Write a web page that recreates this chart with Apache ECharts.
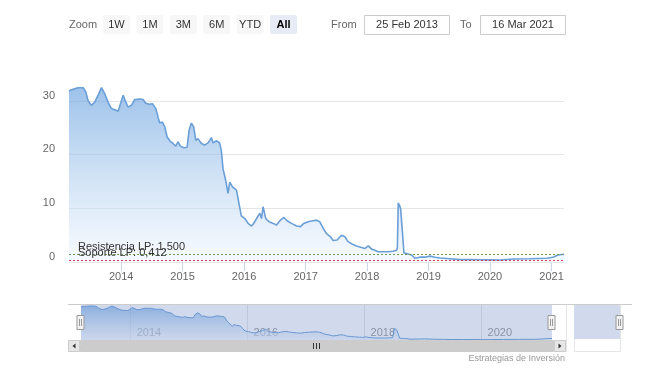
<!DOCTYPE html>
<html><head><meta charset="utf-8">
<script src="https://cdn.jsdelivr.net/npm/echarts@6/dist/echarts.min.js"></script>
<style>html,body{margin:0;padding:0;background:#fff}#c{width:655px;height:373px}</style>
</head><body><div id="c"></div>
<script>
const dates = ['2013-02-25','2013-03-12','2013-03-31','2013-04-20','2013-05-20','2013-06-05','2013-06-18','2013-07-08','2013-07-28','2013-08-17','2013-09-06','2013-09-25','2013-10-15','2013-11-04','2013-11-24','2013-12-14','2013-12-28',
'2014-01-13','2014-01-29','2014-02-11','2014-03-03','2014-03-23','2014-04-22','2014-05-11','2014-05-27','2014-06-16','2014-07-06','2014-07-26','2014-08-08','2014-08-18','2014-09-03','2014-09-17','2014-10-01','2014-10-17','2014-11-05','2014-11-21','2014-12-05','2014-12-19',
'2015-01-08','2015-01-28','2015-02-08','2015-02-22','2015-03-08','2015-03-20','2015-04-02','2015-04-23','2015-05-12','2015-06-01','2015-06-21','2015-07-01','2015-07-21','2015-08-09','2015-08-19','2015-08-29','2015-09-14','2015-09-28','2015-10-08','2015-10-24','2015-11-17','2015-12-02','2015-12-16',
'2016-01-06','2016-01-25','2016-02-14','2016-02-28','2016-03-19','2016-04-04','2016-04-14','2016-04-23','2016-05-09','2016-05-29','2016-06-22','2016-07-12','2016-08-01','2016-08-25','2016-09-13','2016-10-09','2016-11-08','2016-12-02','2016-12-21',
'2017-01-16','2017-02-14','2017-03-06','2017-03-26','2017-04-15','2017-05-05','2017-05-29','2017-06-13','2017-07-07','2017-08-02','2017-08-22','2017-09-10','2017-10-06','2017-10-30','2017-11-29','2017-12-19',
'2018-01-08','2018-01-28','2018-02-16','2018-03-08','2018-04-07','2018-05-07','2018-06-05','2018-06-25','2018-06-30','2018-07-05','2018-07-12','2018-07-19','2018-07-29','2018-08-08','2018-09-02','2018-09-23','2018-10-12','2018-11-11','2018-12-11',
'2019-01-10','2019-02-08','2019-03-10','2019-05-08','2019-07-06','2019-09-05','2019-11-03',
'2020-01-05','2020-03-01','2020-05-17','2020-08-26','2020-12-05',
'2021-01-10','2021-02-08','2021-03-16'];
const prices = [31.9,32.1,32.3,32.5,32.5,31.7,30.1,29.2,29.8,31.1,32.5,31.4,29.8,28.6,28.4,28.1,29.5,
31.1,29.8,28.9,29.2,30.3,30.4,30.3,29.6,29.4,29.5,28.6,27.0,25.9,26.1,25.2,23.3,22.6,22.1,21.6,22.4,21.6,
21.3,21.4,24.5,25.9,25.2,22.7,23.0,22.1,21.8,22.2,23.2,22.2,22.6,22.2,20.8,17.4,15.2,12.8,14.9,14.0,13.4,10.9,8.6,
8.1,7.2,6.7,7.2,8.3,9.1,8.1,10.3,8.1,7.5,7.2,6.9,7.7,8.3,7.7,7.2,6.7,6.6,7.2,
7.5,7.7,7.8,7.5,6.3,5.3,4.7,4.0,4.1,5.0,4.7,3.8,3.3,3.0,2.7,2.5,
3.0,2.4,2.2,1.9,1.9,1.9,2.0,2.2,2.6,11.0,10.6,10.0,6.0,1.7,1.5,1.3,0.7,0.9,0.9,
1.1,0.9,0.75,0.6,0.45,0.45,0.42,
0.4,0.38,0.55,0.6,0.7,
0.9,1.3,1.45];
const yearTicks = ['2014','2015','2016','2017','2018','2019','2020','2021'];
const navYearTicks = ['2014','2016','2018','2020'];
const yTicks = [0,10,20,30];
const resistance = 1.5, support = 0.412;
const resistanceLabel = 'Resistencia LP: 1,500';
const supportLabel = 'Soporte LP: 0,412';
const rangeButtons = ['1W','1M','3M','6M','YTD','All'];
const fromDate = '25 Feb 2013', toDate = '16 Mar 2021';
const credit = 'Estrategias de Inversión';

const toTs = s => { const p = s.split('-').map(Number); return Date.UTC(p[0], p[1]-1, p[2]); };
const seriesData = dates.map((d,i) => [toTs(d), prices[i]]);
const xMin = toTs(dates[0]), xMax = toTs(dates[dates.length-1]);
const yearTs = yearTicks.map(y => Date.UTC(+y,0,1));
const navYearTs = navYearTicks.map(y => Date.UTC(+y,0,1));
const yearOf = v => String(new Date(v + 86400000).getUTCFullYear());
const FONT = 'Liberation Sans';

const chart = echarts.init(document.getElementById('c'), null, {renderer:'canvas'});
const maskColor = 'rgba(102,133,194,0.3)';
const graphics = [];
graphics.push({type:'text', x:69, y:24.5, style:{text:'Zoom', fill:'#666', font:'11px '+FONT, verticalAlign:'middle'}});
rangeButtons.forEach((b,i) => {
  const x = 103 + i*33.4, sel = b === 'All';
  graphics.push({type:'rect', shape:{x:x, y:15, width:27, height:19, r:2}, style:{fill: sel ? '#e6ebf5' : '#f7f7f7'}});
  graphics.push({type:'text', x:x+13.5, y:24.5, style:{text:b, fill: sel ? '#000' : '#333', font:(sel?'bold ':'')+'11px '+FONT, align:'center', verticalAlign:'middle'}});
});
graphics.push({type:'text', x:331, y:24.5, style:{text:'From', fill:'#666', font:'11px '+FONT, verticalAlign:'middle'}});
graphics.push({type:'rect', shape:{x:364.5, y:15.5, width:85, height:19}, style:{fill:'#fff', stroke:'#ccc', lineWidth:1}});
graphics.push({type:'text', x:407, y:25, style:{text:fromDate, fill:'#333', font:'11px '+FONT, align:'center', verticalAlign:'middle'}});
graphics.push({type:'text', x:460, y:24.5, style:{text:'To', fill:'#666', font:'11px '+FONT, verticalAlign:'middle'}});
graphics.push({type:'rect', shape:{x:480.5, y:15.5, width:85, height:19}, style:{fill:'#fff', stroke:'#ccc', lineWidth:1}});
graphics.push({type:'text', x:523, y:25, style:{text:toDate, fill:'#333', font:'11px '+FONT, align:'center', verticalAlign:'middle'}});
// navigator mask & outline
graphics.push({type:'rect', z:50, shape:{x:81, y:305, width:471, height:35}, style:{fill:maskColor}});
graphics.push({type:'rect', z:50, shape:{x:574, y:305, width:46, height:34}, style:{fill:maskColor}});
graphics.push({type:'polyline', z:51, shape:{points:[[68,304.5],[632,304.5]]}, style:{stroke:'#ccc', lineWidth:1, fill:null}});
graphics.push({type:'polyline', z:51, shape:{points:[[574.5,339],[574.5,351.5],[620.5,351.5],[620.5,304.5]]}, style:{stroke:'#e6e6e6', lineWidth:1, fill:null}});
graphics.push({type:'polyline', z:51, shape:{points:[[566.5,304.5],[566.5,352]]}, style:{stroke:'#e6e6e6', lineWidth:1, fill:null}});
// scrollbar
graphics.push({type:'rect', z:52, shape:{x:68.5, y:340.5, width:497, height:11}, style:{fill:'#f2f2f2', stroke:'#f2f2f2'}});
graphics.push({type:'rect', z:52, shape:{x:80.5, y:340.5, width:473, height:11}, style:{fill:'#cccccc', stroke:'#cccccc'}});
[[68.5,'l'],[554.5,'r']].forEach(([x,d]) => {
  graphics.push({type:'rect', z:53, shape:{x:x, y:340.5, width:11, height:11}, style:{fill:'#e6e6e6', stroke:'#cccccc'}});
  const cx = x+5.5, cy = 346;
  const pts = d==='l' ? [[cx+1.5,cy-2.5],[cx+1.5,cy+2.5],[cx-1.5,cy]] : [[cx-1.5,cy-2.5],[cx-1.5,cy+2.5],[cx+1.5,cy]];
  graphics.push({type:'polygon', z:54, shape:{points:pts}, style:{fill:'#333'}});
});
[313.5,316.5,319.5].forEach(x => graphics.push({type:'line', z:54, shape:{x1:x,y1:343,x2:x,y2:349}, style:{stroke:'#333', lineWidth:1}}));
// handles
[80.5, 551.5, 619.5].forEach(x => {
  graphics.push({type:'rect', z:55, shape:{x:x-3.5, y:315.5, width:7, height:14}, style:{fill:'#f2f2f2', stroke:'#999', lineWidth:1}});
  graphics.push({type:'line', z:56, shape:{x1:x-1,y1:319,x2:x-1,y2:326}, style:{stroke:'#999', lineWidth:1}});
  graphics.push({type:'line', z:56, shape:{x1:x+1,y1:319,x2:x+1,y2:326}, style:{stroke:'#999', lineWidth:1}});
});
graphics.push({type:'text', x:565, y:359, style:{text:credit, fill:'#999', font:'9px '+FONT, align:'right', verticalAlign:'middle'}});

const areaGrad = () => new echarts.graphic.LinearGradient(0,0,0,1,[{offset:0,color:'rgba(108,163,224,0.95)'},{offset:1,color:'rgba(238,245,253,0.7)'}]);

chart.setOption({
  animation:false,
  textStyle:{fontFamily:FONT},
  grid:[{left:69, right:91, top:85, bottom:111},{left:81, right:103, top:305, bottom:33}],
  xAxis:[
    {type:'value', gridIndex:0, min:xMin, max:xMax, axisLine:{show:false},
     axisTick:{show:true, length:9, lineStyle:{color:'#ccd6eb'}, customValues:yearTs},
     axisLabel:{customValues:yearTs, formatter:v => yearOf(v), color:'#666', fontSize:11, margin:9, fontFamily:FONT},
     splitLine:{show:false}},
    {type:'value', gridIndex:1, min:xMin, max:xMax, axisLine:{show:false},
     axisTick:{show:false, customValues:navYearTs},
     axisLabel:{customValues:navYearTs, inside:true, align:'left', padding:[0,0,0,6], margin:2, formatter:v => yearOf(v), color:'#999', fontSize:11, fontFamily:FONT},
     splitLine:{show:true, lineStyle:{color:'#e6e6e6', width:1}}}
  ],
  yAxis:[
    {type:'value', gridIndex:0, min:0, max:33, axisLine:{show:false},
     axisTick:{show:false, customValues:yTicks},
     axisLabel:{customValues:yTicks, color:'#666', fontSize:11, margin:14, verticalAlign:'bottom', lineHeight:11, fontFamily:FONT},
     splitLine:{show:true, lineStyle:{color:'#e6e6e6', width:1}}},
    {type:'value', gridIndex:1, min:0, max:33.5, show:false, splitLine:{show:false}}
  ],
  series:[
    {type:'line', xAxisIndex:0, yAxisIndex:0, data:seriesData, symbol:'none', z:3,
     lineStyle:{color:'#6a9fd8', width:1.6}, areaStyle:{color:areaGrad()},
     markLine:{symbol:'none', silent:true, animation:false,
       data:[
         {yAxis:resistance, lineStyle:{color:'#6b9a55', type:[2,2], width:1}, label:{formatter:resistanceLabel}},
         {yAxis:support, lineStyle:{color:'#c8405a', type:[2,2], width:1}, label:{formatter:supportLabel}}
       ],
       label:{position:'insideStartTop', distance:[9,1], color:'#333', fontSize:11, fontFamily:FONT}}},
    {type:'line', xAxisIndex:1, yAxisIndex:1, data:seriesData, symbol:'none',
     lineStyle:{color:'#6a9fd8', width:1}, areaStyle:{color:areaGrad()}}
  ],
  graphic:graphics
});
</script></body></html>
